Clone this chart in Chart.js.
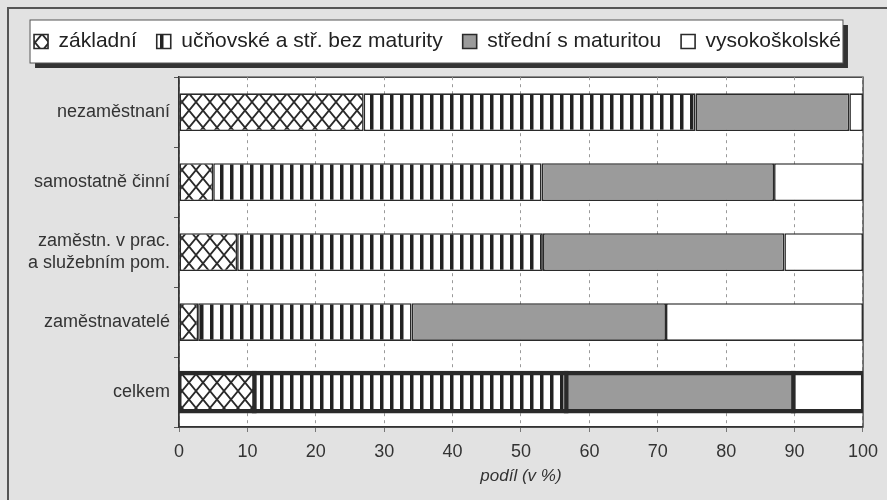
<!DOCTYPE html>
<html>
<head>
<meta charset="utf-8">
<script src="https://cdn.jsdelivr.net/npm/chart.js@4"></script>
<style>
  body { margin: 0; background: #e2e2e2; }
  canvas { display: block; }
</style>
</head>
<body>
<canvas id="chart" width="887" height="500"></canvas>
<script>
// Data
const categories = ['nezaměstnaní', 'samostatně činní', ['zaměstn. v prac.', 'a služebním pom.'], 'zaměstnavatelé', 'celkem'];
const zakladni = [27, 5, 8.5, 2.8, 11];
const ucnovske = [48.5, 48, 44.7, 31.2, 45.6];
const stredni = [22.5, 34, 35.3, 37.2, 33.2];
const vysokoskolske = [2, 13, 11.5, 28.8, 10.2];
const xTicks = [0, 10, 20, 30, 40, 50, 60, 70, 80, 90, 100];
const totalIndex = 4; // "celkem" gets the heavy outline

const FONT = "'Liberation Sans', Arial, sans-serif";
const INK = '#2a2a2a';

// Fill patterns
function crossPattern() {
    const c = document.createElement('canvas');
    c.width = 14; c.height = 17;
    const g = c.getContext('2d');
    g.fillStyle = '#fff';
    g.fillRect(0, 0, c.width, c.height);
    g.strokeStyle = '#2a2a2a';
    g.lineWidth = 1.8;
    g.beginPath();
    g.moveTo(0, 0); g.lineTo(14, 17);
    g.moveTo(14, 0); g.lineTo(0, 17);
    g.stroke();
    return g.createPattern(c, 'repeat');
}

function stripePattern() {
    const c = document.createElement('canvas');
    c.width = 10; c.height = 4;
    const g = c.getContext('2d');
    g.fillStyle = '#fff';
    g.fillRect(0, 0, 10, 4);
    g.fillStyle = '#222';
    g.fillRect(0, 0, 3.5, 4);
    return g.createPattern(c, 'repeat');
}

const borderW = ctx => ctx.dataIndex === totalIndex ? 4.5 : 1.6;
const inflate = ctx => ctx.dataIndex === totalIndex ? 2.5 : 'auto';

function series(label, data, fill) {
    return {
        label: label,
        data: data,
        backgroundColor: fill,
        borderColor: INK,
        borderWidth: borderW,
        borderSkipped: false,
        inflateAmount: inflate,
        barPercentage: 0.9,
        categoryPercentage: 0.6
    };
}

// Page background, frame, plot area and legend box
const framePlugin = {
    id: 'frame',
    beforeDraw(chart) {
        const { ctx, chartArea: a, width, height } = chart;
        ctx.save();
        ctx.fillStyle = '#e2e2e2';
        ctx.fillRect(0, 0, width, height);
        ctx.strokeStyle = '#555';
        ctx.lineWidth = 2;
        ctx.beginPath();
        ctx.moveTo(8, height); ctx.lineTo(8, 8); ctx.lineTo(width, 8);
        ctx.stroke();

        // plot area
        ctx.fillStyle = '#fff';
        ctx.fillRect(a.left, a.top, a.right - a.left, a.bottom - a.top);
        ctx.strokeStyle = '#444';
        ctx.lineWidth = 1.5;
        ctx.strokeRect(a.left, a.top, a.right - a.left, a.bottom - a.top);

        // legend box with shadow
        const boxes = chart.legend.legendHitBoxes;
        if (boxes && boxes.length) {
            const first = boxes[0], last = boxes[boxes.length - 1];
            const x0 = first.left - 4, x1 = last.left + last.width + 2;
            const y0 = first.top - 11, y1 = first.top + first.height + 11;
            ctx.fillStyle = '#333';
            ctx.fillRect(x0 + 5, y0 + 5, x1 - x0, y1 - y0);
            ctx.fillStyle = '#fff';
            ctx.fillRect(x0, y0, x1 - x0, y1 - y0);
            ctx.strokeStyle = '#555';
            ctx.lineWidth = 1;
            ctx.strokeRect(x0, y0, x1 - x0, y1 - y0);
        }
        ctx.restore();
    }
};

new Chart(document.getElementById('chart'), {
    type: 'bar',
    data: {
        labels: categories,
        datasets: [
            series('základní', zakladni, crossPattern()),
            series('učňovské a stř. bez maturity', ucnovske, stripePattern()),
            series('střední s maturitou', stredni, '#9b9b9b'),
            series('vysokoškolské', vysokoskolske, '#ffffff')
        ]
    },
    options: {
        indexAxis: 'y',
        responsive: false,
        animation: false,
        layout: { padding: { left: 10, right: 22, top: 11, bottom: 0 } },
        plugins: {
            tooltip: { enabled: false },
            legend: {
                position: 'top',
                weight: 2000,
                labels: {
                    boxWidth: 14,
                    boxHeight: 14,
                    padding: 20,
                    color: '#222',
                    font: { family: FONT, size: 21 }
                }
            },
            // empty spacer between legend and plot
            subtitle: {
                display: true,
                text: ' ',
                weight: 500,
                font: { size: 1 },
                padding: { top: 0, bottom: 14 }
            }
        },
        scales: {
            x: {
                stacked: true,
                min: 0,
                max: 100,
                afterBuildTicks: scale => { scale.ticks = xTicks.map(v => ({ value: v })); },
                afterFit: scale => { scale.height = 73; },
                ticks: {
                    color: '#333',
                    padding: 9,
                    font: { family: FONT, size: 18 }
                },
                grid: {
                    color: '#999',
                    lineWidth: 1,
                    tickLength: 5,
                    tickColor: '#777',
                    tickBorderDash: []
                },
                border: { color: '#333', width: 1.5, dash: [3, 4] },
                title: {
                    display: true,
                    text: 'podíl (v %)',
                    color: '#333',
                    padding: { top: 0, bottom: 14 },
                    font: { family: FONT, size: 17, style: 'italic' }
                }
            },
            y: {
                stacked: true,
                afterFit: scale => { scale.width = 169; },
                ticks: {
                    color: '#333',
                    padding: 4,
                    font: { family: FONT, size: 18 }
                },
                grid: {
                    offset: true,
                    drawOnChartArea: false,
                    tickLength: 5,
                    color: '#555'
                },
                border: { color: '#333', width: 1.5 }
            }
        }
    },
    plugins: [framePlugin]
});
</script>
</body>
</html>
